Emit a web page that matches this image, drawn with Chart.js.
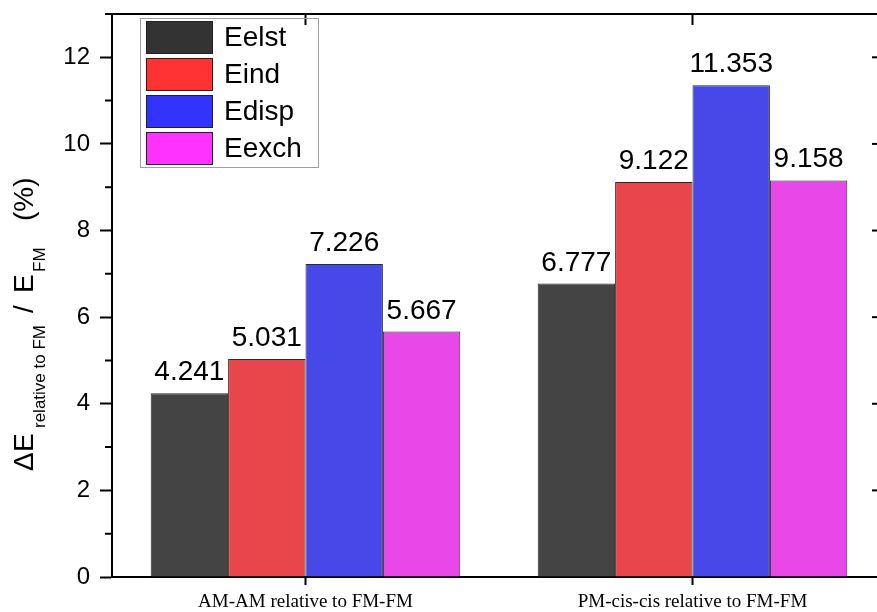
<!DOCTYPE html>
<html>
<head>
<meta charset="utf-8">
<script src="https://cdn.jsdelivr.net/npm/chart.js@4.4.1/dist/chart.umd.min.js"></script>
<style>
  html, body { margin: 0; padding: 0; background: #fff; overflow: hidden; }
  #grafico { display: block; }
</style>
</head>
<body>
<canvas id="grafico" width="877" height="612"></canvas>
<script>
// energy components (%) for each magnetic configuration
var categorias = ["AM-AM relative to FM-FM", "PM-cis-cis relative to FM-FM"];
var eelst = [4.241, 6.777];
var eind = [5.031, 9.122];
var edisp = [7.226, 11.353];
var eexch = [5.667, 9.158];

var nomes = ["Eelst", "Eind", "Edisp", "Eexch"];
var coresBarra = ["#444444", "#e8464b", "#4748e8", "#e848e8"];
var coresLegenda = ["#333333", "#ff3333", "#3333ff", "#ff33ff"];

var fonteSans = '"Liberation Sans", Arial, sans-serif';

// the plot frame runs past the right edge of the canvas
var limiteDireito = 886;

var estender = {
  id: "estender",
  afterLayout: function (chart) {
    var x = chart.scales.x;
    x.right = limiteDireito;
    x.width = x.right - x.left;
    x.configure();
    chart.chartArea.right = limiteDireito;
    chart.chartArea.width = limiteDireito - chart.chartArea.left;
  },
};

// value printed above every bar
var rotulos = {
  id: "rotulos",
  afterDatasetsDraw: function (chart) {
    var ctx = chart.ctx;
    ctx.save();
    ctx.fillStyle = "#000";
    ctx.font = "28px " + fonteSans;
    ctx.textAlign = "center";
    ctx.textBaseline = "alphabetic";
    chart.data.datasets.forEach(function (ds, i) {
      var meta = chart.getDatasetMeta(i);
      meta.data.forEach(function (barra, j) {
        ctx.fillText(ds.data[j].toFixed(3), barra.x, barra.y - 13);
      });
    });
    ctx.restore();
  },
};

// box on top/right, mirror ticks and minor ticks
var moldura = {
  id: "moldura",
  afterDraw: function (chart) {
    var ctx = chart.ctx;
    var area = chart.chartArea;
    var y = chart.scales.y;
    var x = chart.scales.x;
    ctx.save();
    ctx.strokeStyle = "#000";
    ctx.lineWidth = 2;
    ctx.beginPath();
    ctx.moveTo(area.left, area.top);
    ctx.lineTo(area.right, area.top);
    ctx.lineTo(area.right, area.bottom);
    ctx.stroke();

    for (var v = 0; v <= 13; v++) {
      var py = y.getPixelForValue(v);
      var maior = v % 2 == 0;
      ctx.beginPath();
      if (!maior) {
        ctx.moveTo(area.left - 7, py);
        ctx.lineTo(area.left, py);
      }
      ctx.moveTo(area.right - (maior ? 14 : 7), py);
      ctx.lineTo(area.right, py);
      ctx.stroke();
    }
    for (var k = 0; k < categorias.length; k++) {
      var px = x.getPixelForValue(k);
      ctx.beginPath();
      ctx.moveTo(px, area.top);
      ctx.lineTo(px, area.top + 11);
      ctx.stroke();
    }
    ctx.restore();
  },
};

// legend box in the upper left corner
var legenda = {
  id: "legenda",
  afterDraw: function (chart) {
    var ctx = chart.ctx;
    ctx.save();
    ctx.strokeStyle = "#a0a0a0";
    ctx.lineWidth = 1;
    ctx.strokeRect(140.5, 18.5, 178, 149);
    ctx.font = "28px " + fonteSans;
    ctx.textBaseline = "middle";
    ctx.textAlign = "left";
    for (var i = 0; i < nomes.length; i++) {
      var topo = 21 + i * 37;
      ctx.fillStyle = coresLegenda[i];
      ctx.fillRect(146, topo, 67, 33);
      ctx.strokeStyle = "#222";
      ctx.strokeRect(146.5, topo + 0.5, 66, 32);
      ctx.fillStyle = "#000";
      ctx.fillText(nomes[i], 224, topo + 17);
    }
    ctx.restore();
  },
};

// y title with subscripts
var tituloY = {
  id: "tituloY",
  afterDraw: function (chart) {
    var ctx = chart.ctx;
    var grande = "28px " + fonteSans;
    var pequeno = "17px " + fonteSans;
    var partes = [
      ["\u0394", grande, 2, 0],
      ["E", grande, 21, 0],
      ["relative to FM", pequeno, 45, 12],
      ["/", grande, 160, 0],
      ["E", grande, 180, 0],
      ["FM", pequeno, 201, 12],
      ["(%)", grande, 252, 0],
    ];
    ctx.save();
    ctx.translate(33, 473);
    ctx.rotate(-Math.PI / 2);
    ctx.fillStyle = "#000";
    ctx.textAlign = "left";
    ctx.textBaseline = "alphabetic";
    partes.forEach(function (p) {
      ctx.font = p[1];
      ctx.fillText(p[0], p[2], p[3]);
    });
    ctx.restore();
  },
};

var series = [eelst, eind, edisp, eexch];
var datasets = [];
for (var i = 0; i < series.length; i++) {
  datasets.push({
    label: nomes[i],
    data: series[i],
    backgroundColor: coresBarra[i],
    borderColor: "#2a2a2a",
    borderWidth: 1,
    categoryPercentage: 0.8,
    barPercentage: 1.0,
  });
}

const config = {
  type: "bar",
  data: { labels: categorias, datasets: datasets },
  options: {
    responsive: false,
    animation: false,
    layout: { padding: { top: 14, right: 0, left: 0, bottom: 0 } },
    plugins: {
      legend: { display: false },
      tooltip: { enabled: false },
    },
    scales: {
      x: {
        offset: true,
        grid: {
          offset: false,
          drawOnChartArea: false,
          drawTicks: true,
          tickLength: 8,
          tickWidth: 2,
          tickColor: "#000",
        },
        border: { color: "#000", width: 2 },
        ticks: {
          color: "#000",
          padding: 6,
          maxRotation: 0,
          font: { family: '"Liberation Serif", "Times New Roman", serif', size: 19 },
        },
        afterFit: function (scale) {
          scale.height = 35;
          scale.paddingLeft = 0;
          scale.paddingRight = 0;
        },
      },
      y: {
        min: 0,
        max: 13,
        grid: {
          drawOnChartArea: false,
          tickLength: 12,
          tickWidth: 2,
          tickColor: "#000",
        },
        border: { color: "#000", width: 2 },
        ticks: {
          stepSize: 2,
          includeBounds: false,
          color: "#000",
          padding: 10,
          font: { family: fonteSans, size: 24 },
        },
        afterFit: function (scale) {
          scale.width = 112;
          scale.paddingTop = 0;
          scale.paddingBottom = 0;
        },
      },
    },
  },
  plugins: [estender, rotulos, moldura, legenda, tituloY],
};

let meuGrafico = new Chart(document.getElementById("grafico"), config);
</script>
</body>
</html>
